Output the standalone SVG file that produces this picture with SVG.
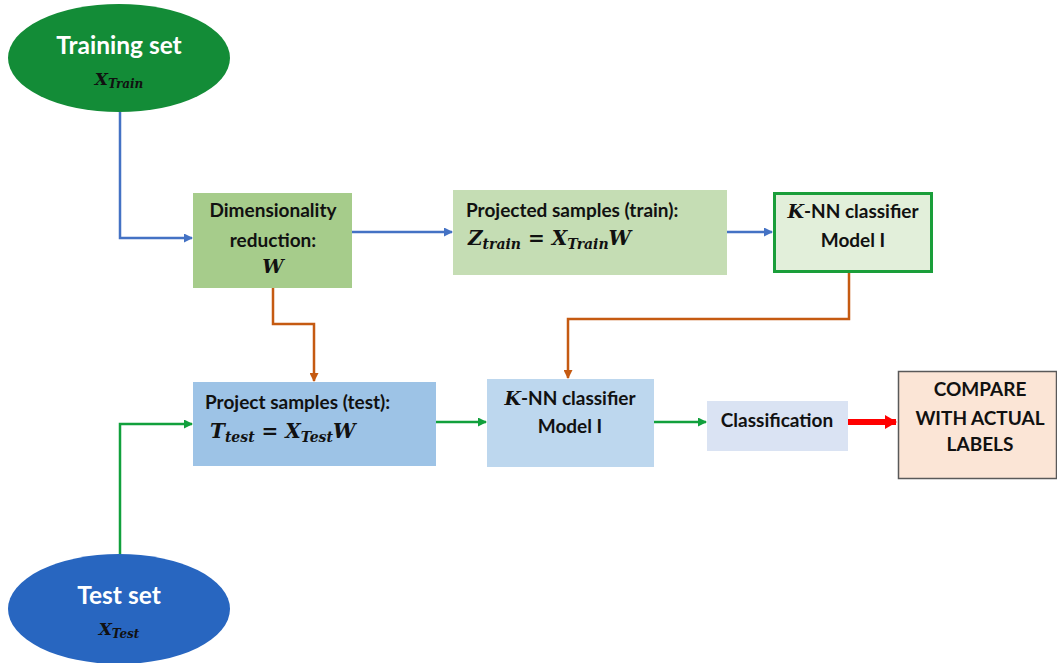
<svg xmlns="http://www.w3.org/2000/svg" width="1057" height="663" viewBox="0 0 1057 663">
<defs>
<style>
.t{font-family:Lato,"Noto Sans",sans-serif;font-weight:bold;fill:#111;font-size:19px}
.big{font-size:24.5px}
.w{fill:#fff}
.m{font-family:"DejaVu Serif","Liberation Serif",serif;font-weight:bold;font-style:italic;fill:#111}
.c{stroke-width:2.5;fill:none}
.blue{stroke:#4472c4}
.org{stroke:#c55a11}
.grn{stroke:#11a03c}
</style>
<marker id="ab" markerWidth="9" markerHeight="9" refX="8" refY="4.5" orient="auto" markerUnits="userSpaceOnUse" viewBox="0 0 9 9"><path d="M0,0 L9,4.5 L0,9 z" fill="#4472c4"/></marker>
<marker id="ao" markerWidth="9" markerHeight="9" refX="8" refY="4.5" orient="auto" markerUnits="userSpaceOnUse" viewBox="0 0 9 9"><path d="M0,0 L9,4.5 L0,9 z" fill="#c55a11"/></marker>
<marker id="ag" markerWidth="9" markerHeight="9" refX="8" refY="4.5" orient="auto" markerUnits="userSpaceOnUse" viewBox="0 0 9 9"><path d="M0,0 L9,4.5 L0,9 z" fill="#11a03c"/></marker>
<marker id="ar" markerWidth="12" markerHeight="14" refX="11" refY="7" orient="auto" markerUnits="userSpaceOnUse" viewBox="0 0 12 14"><path d="M0,0 L12,7 L0,14 z" fill="#ff0000"/></marker>
</defs>
<rect width="1057" height="663" fill="#fff"/>
<g id="connectors">
<path class="c blue" d="M120,112 V238 H192" marker-end="url(#ab)"/>
<path class="c blue" d="M352,232 H452" marker-end="url(#ab)"/>
<path class="c blue" d="M727,232 H772" marker-end="url(#ab)"/>
<path class="c org" d="M273,288 V324 H314 V381" marker-end="url(#ao)"/>
<path class="c org" d="M849,273 V319 H568 V378" marker-end="url(#ao)"/>
<path class="c grn" d="M120,555 V424 H192" marker-end="url(#ag)"/>
<path class="c grn" d="M436,422 H486" marker-end="url(#ag)"/>
<path class="c grn" d="M654,422 H706" marker-end="url(#ag)"/>
<path d="M848,422 H896" stroke="#ff0000" stroke-width="6" fill="none" marker-end="url(#ar)"/>
</g>
<g id="train">
<ellipse cx="119" cy="58" rx="111" ry="54" fill="#138c37"/>
<text class="t w big" x="119" y="54" text-anchor="middle">Training set</text>
<text class="m w" x="119" y="85" text-anchor="middle" style="font-size:17px">X<tspan style="font-size:12px" dy="3">Train</tspan></text>
</g>
<g id="dimred">
<rect x="193" y="193" width="159" height="95" fill="#a6cc8b"/>
<text class="t" x="273" y="217" text-anchor="middle">Dimensionality</text>
<text class="t" x="273" y="247" text-anchor="middle">reduction:</text>
<text class="m" x="273" y="273" text-anchor="middle" style="font-size:19px">W</text>
</g>
<g id="projtrain">
<rect x="453" y="190" width="274" height="85" fill="#c5ddb4"/>
<text class="t" x="466" y="217">Projected samples (train):</text>
<text class="m" x="468" y="245" style="font-size:20px">Z<tspan style="font-size:14px" dy="4">train</tspan><tspan dy="-4" font-style="normal"> = </tspan>X<tspan style="font-size:14px" dy="4">Train</tspan><tspan dy="-4">W</tspan></text>
</g>
<g id="knn1">
<rect x="774.5" y="193.5" width="157" height="78" fill="#e2efda" stroke="#1a9e3a" stroke-width="3"/>
<text class="t" x="853" y="218" text-anchor="middle"><tspan class="m" style="font-size:19px">K</tspan>-NN classifier</text>
<text class="t" x="853" y="247" text-anchor="middle">Model I</text>
</g>
<g id="projtest">
<rect x="193" y="382" width="243" height="84" fill="#9dc3e6"/>
<text class="t" x="205" y="409">Project samples (test):</text>
<text class="m" x="210" y="438" style="font-size:20px">T<tspan style="font-size:14px" dy="4">test</tspan><tspan dy="-4" font-style="normal"> = </tspan>X<tspan style="font-size:14px" dy="4">Test</tspan><tspan dy="-4">W</tspan></text>
</g>
<g id="knn2">
<rect x="487" y="379" width="167" height="88" fill="#bdd7ee"/>
<text class="t" x="570" y="405" text-anchor="middle"><tspan class="m" style="font-size:19px">K</tspan>-NN classifier</text>
<text class="t" x="570" y="433" text-anchor="middle">Model I</text>
</g>
<g id="classification">
<rect x="707" y="401" width="141" height="50" fill="#dae3f3"/>
<text class="t" x="777" y="427" text-anchor="middle">Classification</text>
</g>
<g id="compare">
<rect x="898.5" y="371.5" width="158" height="107" fill="#fbe5d6" stroke="#595959" stroke-width="1.5"/>
<text class="t" x="980" y="396" text-anchor="middle">COMPARE</text>
<text class="t" x="980" y="425" text-anchor="middle">WITH ACTUAL</text>
<text class="t" x="980" y="451" text-anchor="middle">LABELS</text>
</g>
<g id="test">
<ellipse cx="119" cy="609" rx="111" ry="55" fill="#2866c0"/>
<text class="t w big" x="119" y="604" text-anchor="middle">Test set</text>
<text class="m w" x="119" y="635" text-anchor="middle" style="font-size:17px">X<tspan style="font-size:12px" dy="3">Test</tspan></text>
</g>
</svg>
